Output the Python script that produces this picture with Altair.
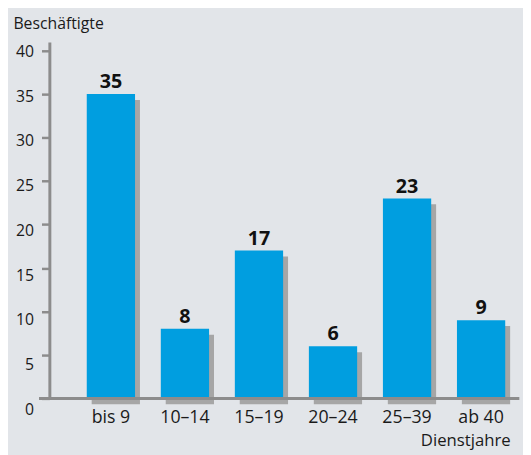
import altair as alt
import pandas as pd

categories = ["bis 9", "10–14", "15–19", "20–24", "25–39", "ab 40"]
values = [35, 8, 17, 6, 23, 9]

df = pd.DataFrame({"cat": categories, "val": values})

FONT = "Open Sans"
BLUE = "#009ee0"
SHADOW = "#a6a6a6"
AXIS = "#8c8c8c"
BG = "#e2e5e9"
TXT = "#1a1a1a"

W, H = 477, 362

xscale = alt.Scale(domain=categories, paddingInner=0.348, paddingOuter=0.346, align=0.73)
yscale = alt.Scale(domain=[0, 41], nice=False, zero=True)

x = alt.X("cat:N", sort=categories, scale=xscale,
          axis=alt.Axis(title="Dienstjahre", labelAngle=0, ticks=False, domain=False,
                        labelFont=FONT, labelFontSize=18, labelColor=TXT, labelPadding=10,
                        titleFont=FONT, titleFontSize=17, titleFontWeight="normal", titleColor=TXT,
                        titleX=468, titleY=43, titleAlign="right", titleBaseline="middle",
                        titleAnchor="end"))
y = alt.Y("val:Q", scale=yscale,
          axis=alt.Axis(title="Beschäftigte", values=[0, 5, 10, 15, 20, 25, 30, 35, 40],
                        grid=False, domainColor=AXIS, domainWidth=3,
                        tickColor=AXIS, tickWidth=2.5, tickSize=8,
                        labelFont=FONT, labelFontSize=16, labelColor=TXT, labelPadding=8,
                        labelOffset=alt.ExprRef("(40 - datum.value) / 4 + 1"),
                        titleFont=FONT, titleFontSize=16, titleFontWeight="normal", titleColor=TXT,
                        titleAngle=0, titleX=-37, titleY=-19, titleAlign="left", titleBaseline="middle"))

shadow = alt.Chart(df).mark_bar(color=SHADOW, xOffset=5, yOffset=6).encode(x=x, y=y)
bars = alt.Chart(df).mark_bar(color=BLUE).encode(x=x, y=y)
labels = alt.Chart(df).mark_text(font=FONT, fontSize=20, fontWeight="bold", color="#111111",
                                 baseline="alphabetic", dy=-6).encode(
    x=x, y=y, text=alt.Text("val:Q"))
xline = alt.Chart(df).mark_rule(color=AXIS, strokeWidth=3).encode(
    x=alt.value(-10), x2=alt.value(W), y=alt.value(H))

chart = alt.layer(shadow, bars, labels, xline).properties(
    width=W, height=H,
    autosize=alt.AutoSizeParams(type="none"),
    padding={"left": 42, "top": 31, "right": 4, "bottom": 54},
    background=BG,
).configure_view(stroke=None)

chart.save("out.html", embed_options={"renderer": "svg", "actions": False})
